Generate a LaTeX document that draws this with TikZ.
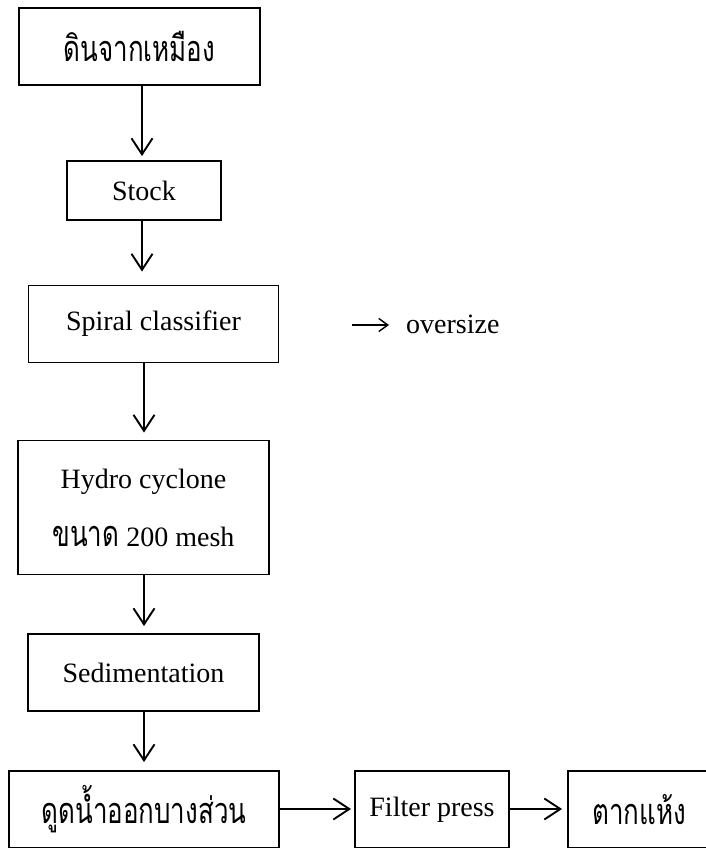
\documentclass[tikz,border=0pt]{standalone}
\usepackage{fontspec}
\usepackage{graphicx}
\setmainfont{Liberation Serif}
\newfontfamily\thaifont[Script=Thai]{Loma}
\newcommand\thaitxt[1]{\scalebox{0.72}[1]{\thaifont\fontsize{36}{40}\selectfont #1}}
\usetikzlibrary{arrows.meta}
\begin{document}
\begin{tikzpicture}[x=1pt,y=-1pt,
  box/.style={draw,line width=1.9pt,inner sep=0pt,font=\fontsize{28}{58}\selectfont,align=center},
  arr/.style={line width=1.9pt,-{Straight Barb[length=16pt,width=21pt,line width=1.9pt]}},
  thinarr/.style={line width=1.4pt,-{Straight Barb[length=9pt,width=13pt,line width=1.4pt]}}]
\useasboundingbox (0,0) rectangle (705,848);
\fill[white] (0,0) rectangle (705,848);
\coordinate (ax1) at (142,0);
\coordinate (ax2) at (144,0);
\coordinate (ay) at (0,809);
\node[box,minimum width=241pt,minimum height=77pt] (n1) at (139.5,46.5) {\thaitxt{ดินจากเหมือง}};
\node[box,minimum width=154pt,minimum height=59pt] (n2) at (144,190.5) {Stock};
\node[box,minimum width=250pt,minimum height=77pt] (n3) at (153.5,324) {Spiral classifier};
\coordinate (ovs) at (352,325);
\node[font=\fontsize{28}{34}\selectfont,anchor=west,inner sep=0pt] (ov) at (406,324) {oversize};
\node[box,minimum width=251pt,minimum height=134pt] (n4) at (143.5,507.5) {Hydro cyclone\\\thaitxt{ขนาด} 200 mesh};
\node[box,minimum width=231pt,minimum height=77pt] (n5) at (143.5,672.5) {Sedimentation};
\node[box,minimum width=270pt,minimum height=77pt] (n6) at (144,809.5) {\thaitxt{ดูดน้ำออกบางส่วน}};
\node[box,minimum width=154pt,minimum height=77pt] (n7) at (432,809.5) {Filter press};
\node[box,minimum width=142pt,minimum height=77pt] (n8) at (639,809.5) {\thaitxt{ตากแห้ง}};
\draw[arr,shorten >=4pt] (n1.south -| ax1) -- (n2.north -| ax1);
\draw[arr,shorten >=13pt] (n2.south -| ax1) -- (n3.north -| ax1);
\draw[arr,shorten >=7pt] (n3.south -| ax2) -- (n4.north -| ax2);
\draw[arr,shorten >=7pt] (n4.south -| ax2) -- (n5.north -| ax2);
\draw[arr,shorten >=8pt] (n5.south -| ax2) -- (n6.north -| ax2);
\draw[arr,shorten >=3pt] (n6.east |- ay) -- (n7.west |- ay);
\draw[arr,shorten >=5pt] (n7.east |- ay) -- (n8.west |- ay);
\draw[thinarr,shorten >=17pt] (ovs) -- (ov.west |- ovs);
\end{tikzpicture}
\end{document}
